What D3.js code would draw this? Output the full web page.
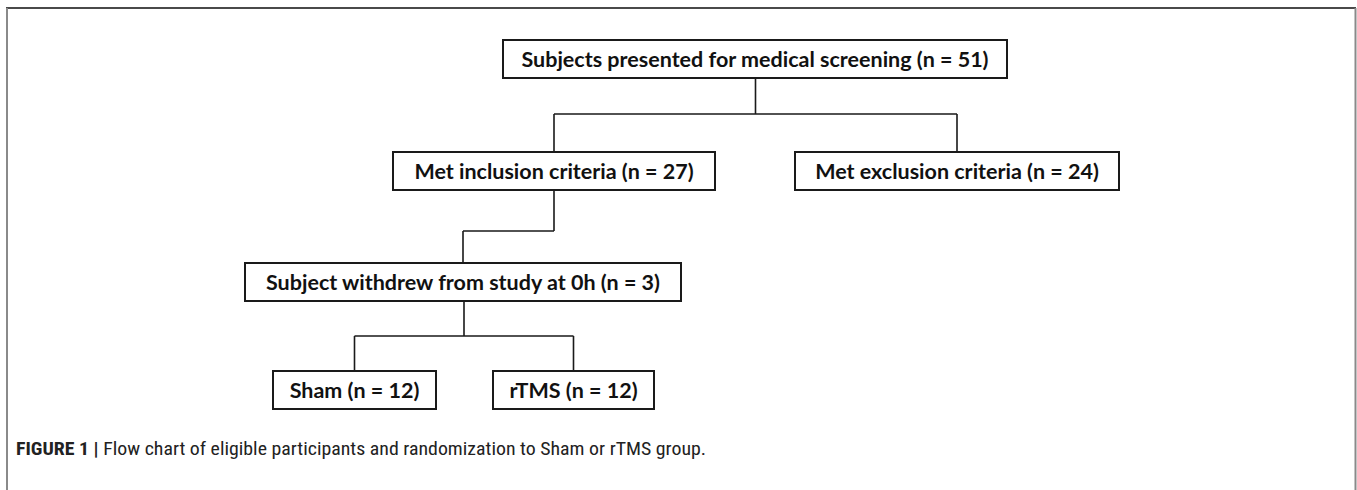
<!DOCTYPE html>
<html>
<head>
<meta charset="utf-8">
<script src="https://cdn.jsdelivr.net/npm/d3@7"></script>
<style>
  body { margin: 0; background: #fff; }
  svg { display: block; }
</style>
</head>
<body>
<svg id="chart"></svg>
<script>
// ===== data =====
var nodeIds = ['screen', 'incl', 'excl', 'withdrew', 'sham', 'rtms'];
var nodeLabels = [
  'Subjects presented for medical screening (n = 51)',
  'Met inclusion criteria (n = 27)',
  'Met exclusion criteria (n = 24)',
  'Subject withdrew from study at 0h (n = 3)',
  'Sham (n = 12)',
  'rTMS (n = 12)'
];
var nodeParents = [null, 'screen', 'screen', 'incl', 'withdrew', 'withdrew'];
var captionBold = 'FIGURE 1 |';
var captionText = ' Flow chart of eligible participants and randomization to Sham or rTMS group.';

// ===== layout (pixels) =====
var svgWidth = 1357;
var svgHeight = 490;
var boxHeight = 38;
// box left / right edges
var boxLeft = { screen: 503, incl: 393, excl: 795, withdrew: 245, sham: 273, rtms: 493 };
var boxRight = { screen: 1007, incl: 715, excl: 1119, withdrew: 681, sham: 436, rtms: 654 };
var levelTop = d3.scaleLinear().domain([0, 1, 2, 3]).range([40, 152, 263, 371]);
var busGap = { screen: 36, incl: 41, withdrew: 35 };

var svg = d3.select('#chart')
  .attr('width', svgWidth)
  .attr('height', svgHeight);

// outer frame (open at the bottom)
svg.append('line')
  .attr('x1', 6).attr('x2', 1356).attr('y1', 8).attr('y2', 8)
  .attr('stroke', '#4a4a4a').attr('stroke-width', 2);
svg.append('line')
  .attr('x1', 7).attr('x2', 7).attr('y1', 8).attr('y2', svgHeight)
  .attr('stroke', '#8a8a8a').attr('stroke-width', 2);
svg.append('line')
  .attr('x1', 1355.5).attr('x2', 1355.5).attr('y1', 8).attr('y2', svgHeight)
  .attr('stroke', '#8a8a8a').attr('stroke-width', 2);

// build nodes
var nodes = nodeIds.map(function (id, i) {
  return { id: id, label: nodeLabels[i], parent: nodeParents[i] };
});
var root = d3.stratify()
  .id(function (d) { return d.id; })
  .parentId(function (d) { return d.parent; })(nodes);

root.each(function (n) {
  n.x0 = boxLeft[n.id];
  n.x1 = boxRight[n.id];
  n.cx = (n.x0 + n.x1) / 2;
  n.y0 = levelTop(n.depth);
  n.y1 = n.y0 + boxHeight;
});

// connectors
var links = svg.append('g')
  .attr('fill', 'none')
  .attr('stroke', '#1a1a1a')
  .attr('stroke-width', 1.6);

root.each(function (n) {
  if (!n.children) return;
  var kids = n.children;
  var startX = kids.length > 1 ? d3.mean(kids, function (k) { return k.cx; }) : n.cx;
  var busY = n.y1 + busGap[n.id];
  var xs = kids.map(function (k) { return k.cx; }).concat([startX]);
  var path = d3.path();
  path.moveTo(startX, n.y1);
  path.lineTo(startX, busY);
  path.moveTo(d3.min(xs), busY);
  path.lineTo(d3.max(xs), busY);
  kids.forEach(function (k) {
    path.moveTo(k.cx, busY);
    path.lineTo(k.cx, k.y0);
  });
  links.append('path').attr('d', path.toString());
});

// boxes
var box = svg.append('g').selectAll('g')
  .data(root.descendants())
  .enter()
  .append('g');

box.append('rect')
  .attr('x', function (d) { return d.x0; })
  .attr('y', function (d) { return d.y0; })
  .attr('width', function (d) { return d.x1 - d.x0; })
  .attr('height', boxHeight)
  .attr('fill', '#fff')
  .attr('stroke', '#1a1a1a')
  .attr('stroke-width', 2);

box.append('text')
  .attr('x', function (d) { return d.cx; })
  .attr('y', function (d) { return d.y0 + boxHeight / 2; })
  .attr('dy', '0.36em')
  .attr('text-anchor', 'middle')
  .style('font-family', 'Lato, "Open Sans", sans-serif')
  .style('font-weight', 'bold')
  .style('font-size', '21.5px')
  .attr('fill', '#111')
  .text(function (d) { return d.data.label; });

// caption
var caption = svg.append('text')
  .attr('x', 16)
  .attr('y', 455)
  .attr('textLength', 690)
  .attr('lengthAdjust', 'spacingAndGlyphs')
  .style('font-family', '"Liberation Sans Narrow", "Roboto Condensed", "Liberation Sans", Arial, sans-serif')
  .style('font-size', '19px')
  .attr('fill', '#222');
caption.append('tspan')
  .style('font-weight', 'bold')
  .text(captionBold);
caption.append('tspan')
  .text(captionText);
</script>
</body>
</html>
